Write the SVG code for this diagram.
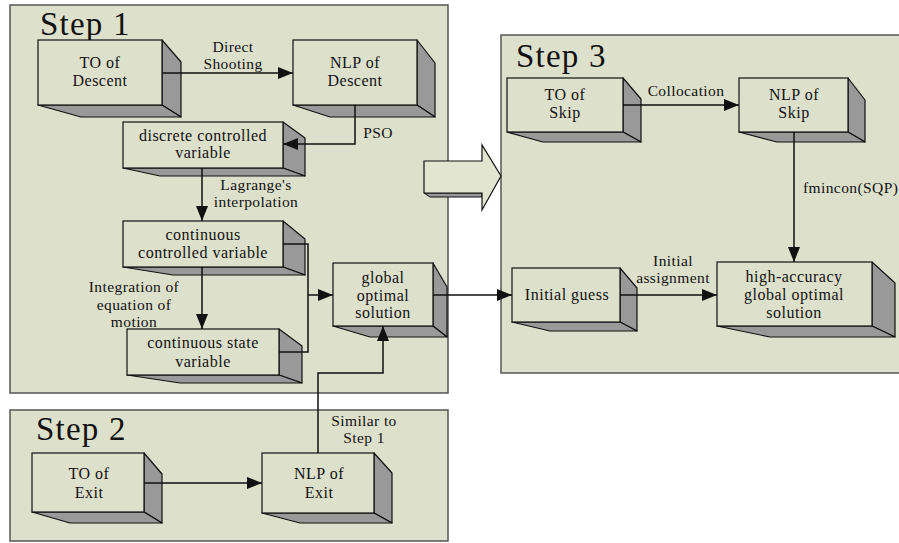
<svg xmlns="http://www.w3.org/2000/svg" width="899" height="543" viewBox="0 0 899 543">
<style>
.panel{fill:#dde0cb;stroke:#555;stroke-width:1.5}
.front{fill:#dde0cb;stroke:#111;stroke-width:1.2}
.side{fill:#999;stroke:#111;stroke-width:1.2;stroke-linejoin:round}
.t{font-family:"Liberation Serif","Times New Roman",serif;font-size:16px;letter-spacing:0.5px;fill:#111;text-anchor:middle}
.lbl{font-family:"Liberation Serif","Times New Roman",serif;font-size:15.5px;letter-spacing:0.4px;fill:#111;text-anchor:middle}
.step{font-family:"Liberation Serif","Times New Roman",serif;font-size:33px;letter-spacing:1.2px;fill:#111}
.conn{fill:none;stroke:#111;stroke-width:1.5}
</style>
<defs>
<marker id="ah" markerUnits="userSpaceOnUse" markerWidth="16" markerHeight="12" refX="15" refY="6" orient="auto">
<path d="M0,0 L15,6 L0,12 Z" fill="#111"/>
</marker>
</defs>
<rect width="899" height="543" fill="#fff"/>
<g id="panels">
<rect class="panel" x="10" y="5" width="438" height="388"/>
<rect class="panel" x="10" y="410" width="438" height="131"/>
<rect class="panel" x="501" y="35" width="410" height="338"/>
<text class="step" x="40" y="35">Step 1</text>
<text class="step" x="36" y="440">Step 2</text>
<text class="step" x="516" y="67">Step 3</text>
</g>
<g id="bigArrow">
<polygon points="424,193 430,197 482,197 482,193" fill="#999" stroke="#111" stroke-width="1"/>
<polygon points="424,161 482,161 482,145 501,176 482,210 482,193 424,193" fill="#e2e5d0" stroke="#111" stroke-width="1.2"/>
</g>
<g id="n1">
<polygon class="side" points="162,40 181,62 181,117 162,105"/>
<polygon class="side" points="38,105 81,117 181,117 162,105"/>
<rect class="front" x="38" y="40" width="124" height="65"/>
<text class="t" x="100" y="68">TO of</text><text class="t" x="100" y="86">Descent</text>
</g>
<g id="n2">
<polygon class="side" points="417,40 435,63 435,117 417,105"/>
<polygon class="side" points="293,105 330,117 435,117 417,105"/>
<rect class="front" x="293" y="40" width="124" height="65"/>
<text class="t" x="355" y="68">NLP of</text><text class="t" x="355" y="86">Descent</text>
</g>
<g id="n3">
<polygon class="side" points="283,122 305,138 305,176 283,168"/>
<polygon class="side" points="123,168 160,176 305,176 283,168"/>
<rect class="front" x="123" y="122" width="160" height="46"/>
<text class="t" x="203" y="141">discrete controlled</text><text class="t" x="203" y="158">variable</text>
</g>
<g id="n4">
<polygon class="side" points="283,221 305,239 305,275 283,267"/>
<polygon class="side" points="123,267 173,275 305,275 283,267"/>
<rect class="front" x="123" y="221" width="160" height="46"/>
<text class="t" x="203" y="240">continuous</text><text class="t" x="203" y="258">controlled variable</text>
</g>
<g id="n5">
<polygon class="side" points="279,329 302,346 302,383 279,375"/>
<polygon class="side" points="127,375 180,383 302,383 279,375"/>
<rect class="front" x="127" y="329" width="152" height="46"/>
<text class="t" x="203" y="348">continuous state</text><text class="t" x="203" y="367">variable</text>
</g>
<g id="n6">
<polygon class="side" points="433,263 447,287 447,337 433,326"/>
<polygon class="side" points="333,326 370,337 447,337 433,326"/>
<rect class="front" x="333" y="263" width="100" height="63"/>
<text class="t" x="383" y="283">global</text><text class="t" x="383" y="301">optimal</text><text class="t" x="383" y="318">solution</text>
</g>
<g id="n7">
<polygon class="side" points="144,453 162,474 162,523 144,512"/>
<polygon class="side" points="32,512 70,523 162,523 144,512"/>
<rect class="front" x="32" y="453" width="112" height="59"/>
<text class="t" x="89" y="479">TO of</text><text class="t" x="89" y="498">Exit</text>
</g>
<g id="n8">
<polygon class="side" points="374,453 392,473 392,523 374,513"/>
<polygon class="side" points="262,513 300,523 392,523 374,513"/>
<rect class="front" x="262" y="453" width="112" height="60"/>
<text class="t" x="319" y="479">NLP of</text><text class="t" x="319" y="498">Exit</text>
</g>
<g id="n9">
<polygon class="side" points="623,78 641,99 641,142 623,132"/>
<polygon class="side" points="507,132 543,142 641,142 623,132"/>
<rect class="front" x="507" y="78" width="116" height="54"/>
<text class="t" x="565" y="100">TO of</text><text class="t" x="565" y="118">Skip</text>
</g>
<g id="n10">
<polygon class="side" points="848,78 865,100 865,142 848,132"/>
<polygon class="side" points="739,132 777,142 865,142 848,132"/>
<rect class="front" x="739" y="78" width="109" height="54"/>
<text class="t" x="794" y="100">NLP of</text><text class="t" x="794" y="118">Skip</text>
</g>
<g id="n11">
<polygon class="side" points="620,268 637,288 637,331 620,322"/>
<polygon class="side" points="512,322 550,331 637,331 620,322"/>
<rect class="front" x="512" y="268" width="108" height="54"/>
<text class="t" x="567" y="300">Initial guess</text>
</g>
<g id="n12">
<polygon class="side" points="872,262 895,283 895,337 872,326"/>
<polygon class="side" points="717,326 770,337 895,337 872,326"/>
<rect class="front" x="717" y="262" width="155" height="64"/>
<text class="t" x="794" y="282">high-accuracy</text><text class="t" x="794" y="300">global optimal</text><text class="t" x="794" y="318">solution</text>
</g>
<g id="connectors">
<path class="conn" d="M162,73 H293" marker-end="url(#ah)"/>
<path class="conn" d="M355,105 V144 H283" marker-end="url(#ah)"/>
<path class="conn" d="M202,168 V221" marker-end="url(#ah)"/>
<path class="conn" d="M202,267 V329" marker-end="url(#ah)"/>
<path class="conn" d="M283,244 H308 V352 H279"/>
<path class="conn" d="M308,295 H333" marker-end="url(#ah)"/>
<path class="conn" d="M433,295 H512" marker-end="url(#ah)"/>
<path class="conn" d="M318,453 V373 H383 V326" marker-end="url(#ah)"/>
<path class="conn" d="M144,483 H262" marker-end="url(#ah)"/>
<path class="conn" d="M623,105 H739" marker-end="url(#ah)"/>
<path class="conn" d="M794,132 V262" marker-end="url(#ah)"/>
<path class="conn" d="M620,295 H717" marker-end="url(#ah)"/>
<text class="lbl" x="233" y="52">Direct</text><text class="lbl" x="233" y="69">Shooting</text>
<text class="lbl" x="378" y="138">PSO</text>
<text class="lbl" x="256" y="190">Lagrange's</text><text class="lbl" x="256" y="207">interpolation</text>
<text class="lbl" x="134" y="292">Integration of</text><text class="lbl" x="134" y="310">equation of</text><text class="lbl" x="134" y="327">motion</text>
<text class="lbl" x="364" y="426">Similar to</text><text class="lbl" x="364" y="443">Step 1</text>
<text class="lbl" x="686" y="96">Collocation</text>
<text class="lbl" x="803" y="193" style="text-anchor:start">fmincon(SQP)</text>
<text class="lbl" x="673" y="266">Initial</text><text class="lbl" x="673" y="283">assignment</text>
</g>
</svg>
